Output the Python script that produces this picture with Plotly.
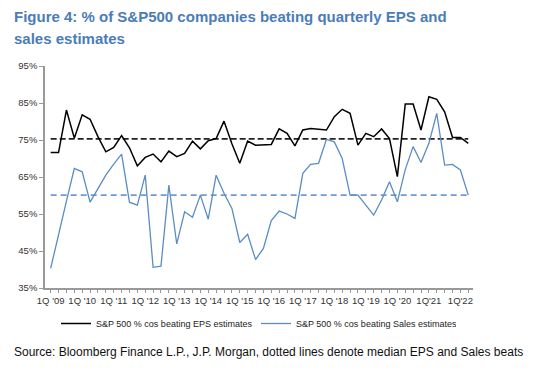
import plotly.graph_objects as go

quarters_idx = list(range(54))  # 1Q'09 .. 2Q'22
tick_idx = list(range(0, 53, 4))
tick_labels = ["1Q '09", "1Q '10", "1Q '11", "1Q '12", "1Q '13", "1Q '14", "1Q '15",
               "1Q '16", "1Q '17", "1Q '18", "1Q '19", "1Q '20", "1Q'21", "1Q'22"]
y_ticks = [35, 45, 55, 65, 75, 85, 95]
y_labels = ["35%", "45%", "55%", "65%", "75%", "85%", "95%"]

eps_beat = [71.6, 71.6, 83.1, 75.5, 81.8, 80.6, 75.9, 71.8, 73.0, 76.2,
            72.9, 68.0, 70.3, 71.2, 69.1, 72.0, 70.5, 71.4, 74.7, 72.6,
            74.8, 75.4, 80.1, 74.0, 68.7, 74.7, 73.6, 73.7, 73.8, 78.0,
            76.8, 73.4, 77.7, 78.1, 78.0, 77.7, 81.3, 83.3, 82.2, 73.6,
            76.8, 75.9, 78.0, 75.4, 65.1, 84.7, 84.7, 77.7, 86.7, 86.0,
            82.6, 75.7, 75.7, 74.1]

sales_beat = [40.3, 49.0, 58.5, 67.3, 66.4, 58.2, 61.9, 65.5, 68.5, 71.2,
              58.2, 57.4, 65.5, 40.6, 40.9, 62.8, 46.9, 55.6, 54.1, 60.1,
              53.6, 65.5, 60.6, 56.5, 47.3, 49.5, 42.7, 45.7, 53.2, 55.8,
              55.0, 53.8, 66.0, 68.4, 68.7, 75.2, 74.5, 70.0, 60.1, 60.1,
              57.4, 54.7, 58.8, 63.7, 58.3, 67.0, 73.2, 68.9, 74.1, 82.2,
              68.2, 68.4, 66.9, 60.1]

eps_median = 75.3
sales_median = 60.1

title_lines = ["Figure 4: % of S&P500 companies beating quarterly EPS and", "sales estimates"]
source_text = "Source: Bloomberg Finance L.P., J.P. Morgan, dotted lines denote median EPS and Sales beats"

FONT = "Liberation Sans, Arial, sans-serif"
BLUE = "#5B8CC4"
TITLE_BLUE = "#4A7DB8"

# page body adds an 8px offset; figure is laid out in (reference - 8px) coordinates
PL, PT, PR, PB = 37, 58, 465, 280
W, H = 539, 365
PW, PH = PR - PL, PB - PT

fig = go.Figure()
fig.add_trace(go.Scatter(x=quarters_idx, y=[eps_median] * len(quarters_idx), mode="lines",
                         line=dict(color="#222222", width=1.6, dash="6px,3px"),
                         showlegend=False, hoverinfo="skip"))
fig.add_trace(go.Scatter(x=quarters_idx, y=[sales_median] * len(quarters_idx), mode="lines",
                         line=dict(color="#6F9BCF", width=1.6, dash="6px,4px"),
                         showlegend=False, hoverinfo="skip"))
fig.add_trace(go.Scatter(x=quarters_idx, y=eps_beat, mode="lines",
                         name="S&P 500 % cos beating EPS estimates",
                         line=dict(color="#000000", width=1.5)))
fig.add_trace(go.Scatter(x=quarters_idx, y=sales_beat, mode="lines",
                         name="S&P 500 % cos beating Sales estimates",
                         line=dict(color=BLUE, width=1.3)))

fig.update_layout(
    width=W, height=H,
    margin=dict(l=PL, r=W - PR, t=PT, b=H - PB, autoexpand=False),
    paper_bgcolor="white", plot_bgcolor="white",
    font=dict(family=FONT, size=10, color="#333333"),
    legend=dict(orientation="h", x=11 / PW, xanchor="left", y=(PB - 301) / PH, yanchor="top",
                font=dict(family=FONT, size=9, color="#222222"),
                entrywidth=155, entrywidthmode="pixels", bgcolor="rgba(0,0,0,0)"),
    showlegend=True,
)
fig.update_xaxes(range=[-0.72, 53.6], tickvals=tick_idx, ticktext=tick_labels,
                 showline=True, linecolor="#999999", linewidth=1.5, showgrid=False, zeroline=False,
                 ticks="outside", ticklen=3, tickcolor="#999999",
                 minor=dict(ticks="outside", dtick=1, tick0=0, ticklen=3, tickcolor="#999999"),
                 tickfont=dict(family=FONT, size=9.5, color="#333333"), tickangle=0,
                 automargin=False)
fig.update_yaxes(range=[35, 95], tickvals=y_ticks, ticktext=y_labels,
                 showline=True, linecolor="#999999", linewidth=1.5, showgrid=False, zeroline=False,
                 ticks="outside", ticklen=4, tickcolor="#999999",
                 tickfont=dict(family=FONT, size=9.5, color="#333333"),
                 automargin=False)

for line_text, cy in zip(title_lines, [8.5, 30.5]):
    fig.add_annotation(text="<b>" + line_text + "</b>", xref="paper", yref="paper",
                       x=(4 - PL) / PW, xanchor="left", y=(PB - cy) / PH, yanchor="middle",
                       showarrow=False, font=dict(family=FONT, size=15, color=TITLE_BLUE))

fig.add_annotation(text=source_text, xref="paper", yref="paper",
                   x=(4 - PL) / PW, xanchor="left", y=(PB - 344) / PH, yanchor="middle",
                   showarrow=False, font=dict(family=FONT, size=12, color="#111111"))

fig.write_html("out.html")
